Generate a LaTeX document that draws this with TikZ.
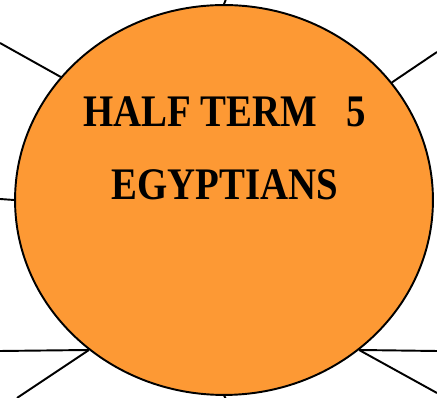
\documentclass[tikz,border=0pt]{standalone}
\usepackage{fontspec}
\newfontfamily\titlefont{Liberation Serif}[FakeStretch=0.86]
\usetikzlibrary{shapes.geometric}
\definecolor{sunorange}{RGB}{253,153,52}

\begin{document}
\begin{tikzpicture}[
    x=0.02cm, y=-0.02cm,
    sun/.style={draw, ellipse, fill=sunorange, line width=1.1pt, minimum width=8.36cm, minimum height=7.8cm, inner sep=0pt},
    heading/.style={anchor=base, inner sep=0pt, font=\titlefont\bfseries\fontsize{25.7}{30}\selectfont},
    ray/.style={line width=1.1pt}
]
\useasboundingbox (0,0) rectangle (437,398);
% --- rays (drawn first, behind the sun) ---
\coordinate (tipN) at (225.7,0);
\coordinate (tipNW) at (0,43);
\coordinate (tipNE) at (437,52);
\coordinate (tipW) at (0,199);
\coordinate (tipSWa) at (0,351);
\coordinate (tipSWb) at (17,398);
\coordinate (tipSEa) at (437,351);
\coordinate (tipSEb) at (437,393);
\coordinate (tipS) at (225.7,398);
% the sun itself
\node[sun] (topic) at (224,200) {};
% --- connections ---
\draw[ray] (topic.90) -- (tipN);
\draw[ray] (topic.143.7) -- (tipNW);
\draw[ray] (topic.35.8) -- (tipNE);
\draw[ray] (topic.180) -- (tipW);
\draw[ray] (topic.228.2) -- (tipSWa);
\draw[ray] (topic.228.2) -- (tipSWb);
\draw[ray] (topic.312.4) -- (tipSEa);
\draw[ray] (topic.312.4) -- (tipSEb);
\draw[ray] (topic.270) -- (tipS);
% --- title text ---
\node[heading] (term) at (224.5,127) {HALF TERM \ \ 5};
\node[heading] (theme) at (225,200) {EGYPTIANS};
\end{tikzpicture}
\end{document}
